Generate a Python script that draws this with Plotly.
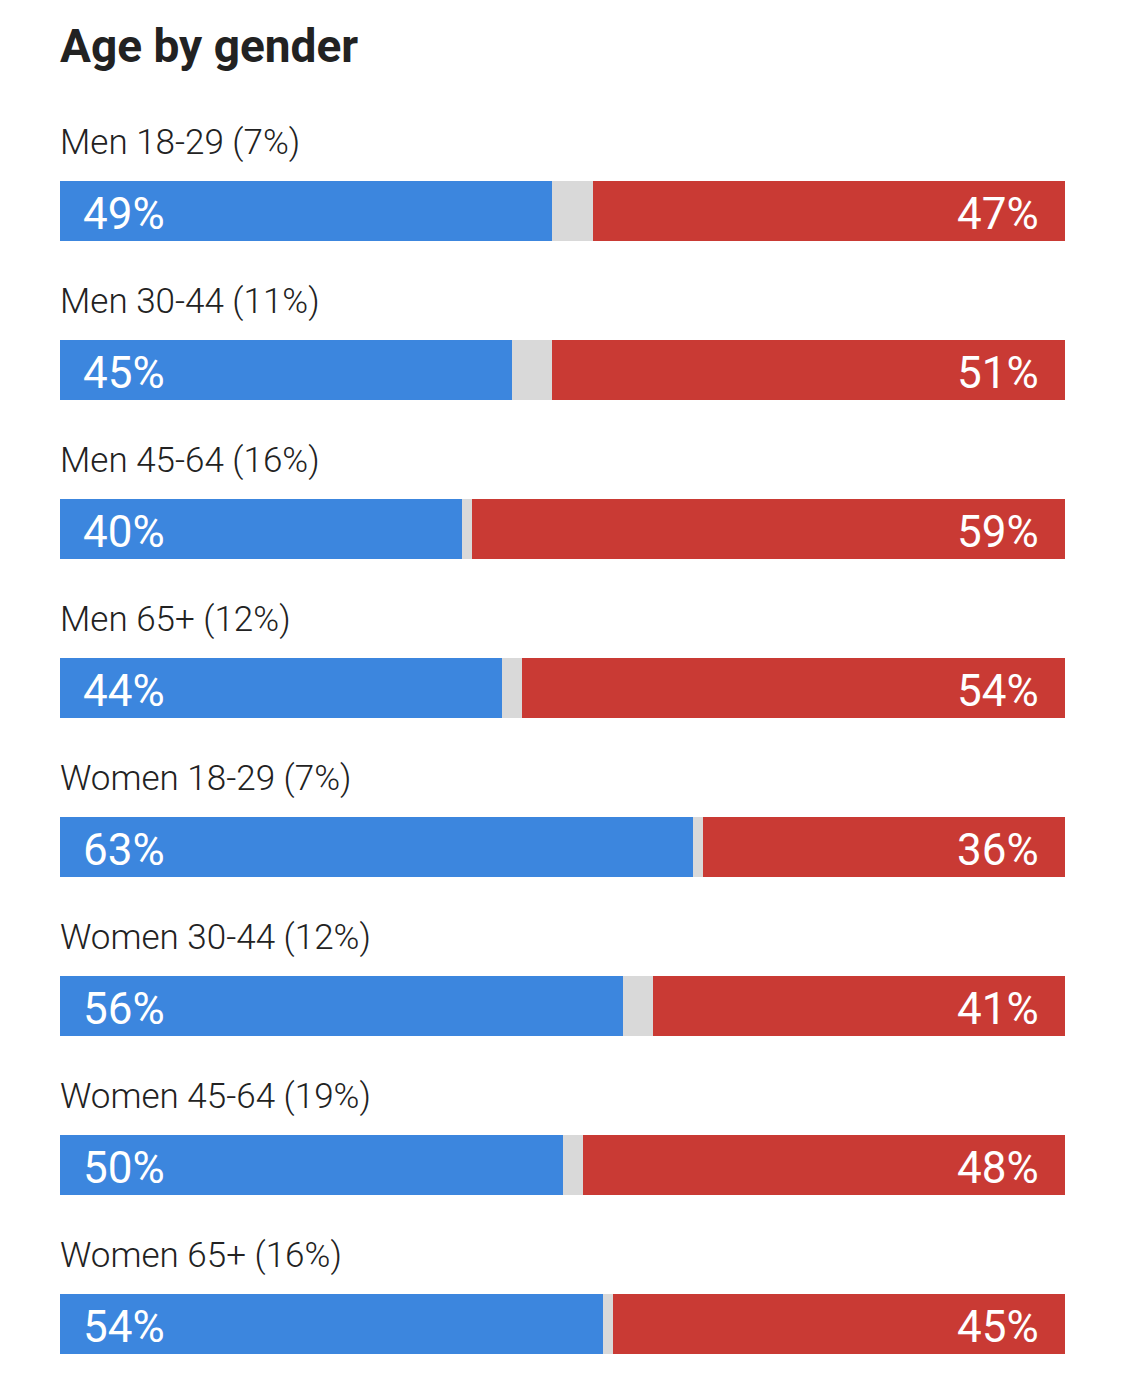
import plotly.graph_objects as go

categories = ["Men 18-29 (7%)", "Men 30-44 (11%)", "Men 45-64 (16%)", "Men 65+ (12%)",
              "Women 18-29 (7%)", "Women 30-44 (12%)", "Women 45-64 (19%)", "Women 65+ (16%)"]
dem = [49, 45, 40, 44, 63, 56, 50, 54]
rep = [47, 51, 59, 54, 36, 41, 48, 45]
other = [100 - d - r for d, r in zip(dem, rep)]

BLUE = "#3C86DE"
RED = "#C93A34"
GRAY = "#D9D9D9"
FONT = "Roboto, sans-serif"

# page body has an 8px margin; figure drawn at page offset (8, 8)
W, H = 1117, 1379
ys = list(range(len(categories)))
spacing = 159.0
first_center = 202.5
top_val = -first_center / spacing
bot_val = top_val + H / spacing

fig = go.Figure()
for vals, col in [(dem, BLUE), (other, GRAY), (rep, RED)]:
    fig.add_trace(go.Bar(x=vals, y=ys, orientation="h", marker=dict(color=col, line=dict(width=0)),
                         width=60 / spacing, hoverinfo="skip", showlegend=False))

ann = []
for i, (c, d, r) in enumerate(zip(categories, dem, rep)):
    ann.append(dict(x=0, y=i, xref="x", yref="y", text=c, showarrow=False, xanchor="left",
                    yanchor="middle", xshift=-2, yshift=68,
                    font=dict(family=FONT, size=35, color="#222222", weight=300)))
    ann.append(dict(x=0, y=i, xref="x", yref="y", text=f"{d}%", showarrow=False, xanchor="left",
                    yanchor="middle", xshift=21, yshift=-3,
                    font=dict(family=FONT, size=44, color="white", weight=400)))
    ann.append(dict(x=100, y=i, xref="x", yref="y", text=f"{r}%", showarrow=False, xanchor="right",
                    yanchor="middle", xshift=-24, yshift=-3,
                    font=dict(family=FONT, size=44, color="white", weight=400)))

fig.update_layout(
    width=W, height=H, barmode="stack", bargap=0,
    margin=dict(l=52, r=60, t=0, b=0),
    paper_bgcolor="white", plot_bgcolor="white",
    title=dict(text="<b>Age by gender</b>", x=0, xref="paper", xanchor="left",
               y=1 - 38 / H, yref="container", yanchor="middle",
               font=dict(family=FONT, size=46, color="#222222")),
    xaxis=dict(range=[0, 100], visible=False, fixedrange=True),
    yaxis=dict(range=[bot_val, top_val], visible=False, fixedrange=True),
    annotations=ann,
)
fig.write_html("out.html")
